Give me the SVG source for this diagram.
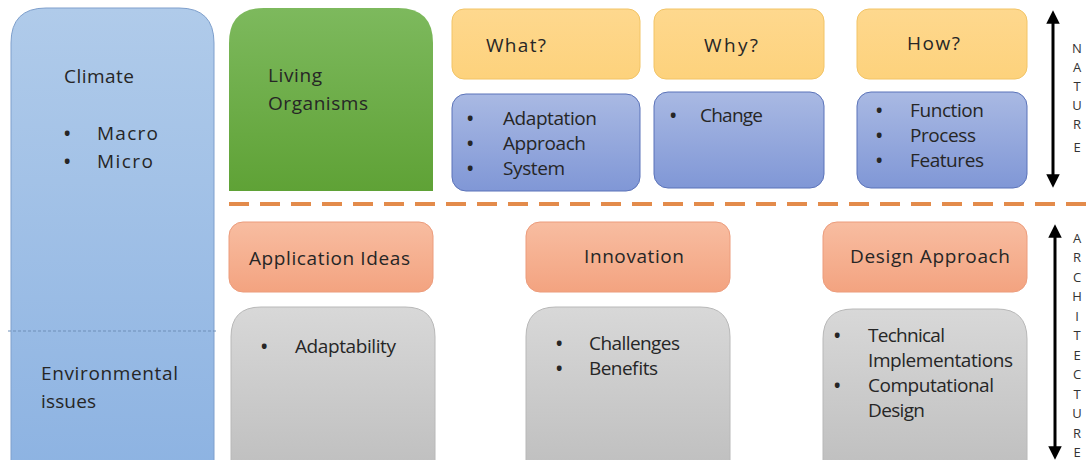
<svg xmlns="http://www.w3.org/2000/svg" width="1087" height="460" viewBox="0 0 1087 460">
<defs>
<linearGradient id="gBlueL" x1="0" y1="0" x2="0" y2="1"><stop offset="0" stop-color="#b0cbea"/><stop offset="1" stop-color="#8db3e2"/></linearGradient>
<linearGradient id="gGreen" x1="0" y1="0" x2="0" y2="1"><stop offset="0" stop-color="#7db95d"/><stop offset="1" stop-color="#5fa236"/></linearGradient>
<linearGradient id="gYellow" x1="0" y1="0" x2="0" y2="1"><stop offset="0" stop-color="#fed88e"/><stop offset="1" stop-color="#fdd27c"/></linearGradient>
<linearGradient id="gBlue" x1="0" y1="0" x2="0" y2="1"><stop offset="0" stop-color="#a9b9e3"/><stop offset="1" stop-color="#8097d6"/></linearGradient>
<linearGradient id="gOrange" x1="0" y1="0" x2="0" y2="1"><stop offset="0" stop-color="#f8bda1"/><stop offset="1" stop-color="#f3a380"/></linearGradient>
<linearGradient id="gGray" x1="0" y1="0" x2="0" y2="1"><stop offset="0" stop-color="#d8d8d8"/><stop offset="1" stop-color="#bfbfbf"/></linearGradient>
<marker id="ah" viewBox="0 0 10 10" refX="5" refY="5" markerWidth="4.5" markerHeight="4.5" orient="auto-start-reverse"><path d="M0,0 L10,5 L0,10 z" fill="#000"/></marker>
</defs>
<style>
text{font-family:"Open Sans","Liberation Sans",sans-serif;font-size:19px;fill:#262626}
.b{font-size:17px;font-weight:bold}
.side{font-size:13px;font-weight:normal;fill:#333;text-anchor:middle}
.yel{fill:url(#gYellow);stroke:#f2c466;stroke-width:1}
.blu{fill:url(#gBlue);stroke:#5b73b9;stroke-width:1}
.org{fill:url(#gOrange);stroke:#ec9c7c;stroke-width:1}
.gry{fill:url(#gGray);stroke:#b8b8b8;stroke-width:1}
</style>
<rect width="1087" height="460" fill="#fff"/>

<g id="climate">
<path d="M11,470 L11,43 Q11,8 46,8 L179,8 Q214,8 214,43 L214,470 Z" fill="url(#gBlueL)" stroke="#7e9fcc" stroke-width="1"/>
<line x1="8" y1="331" x2="216" y2="331" stroke="#6f8fb8" stroke-width="1" stroke-dasharray="3,2"/>
<text x="64" y="83" textLength="70">Climate</text>
<text class="b" x="64" y="140">•</text><text x="97" y="140" textLength="61">Macro</text>
<text class="b" x="64" y="168">•</text><text x="97" y="168" textLength="56">Micro</text>
<text x="41" y="380" textLength="137">Environmental</text>
<text x="41" y="408" textLength="55">issues</text>
</g>

<g id="living">
<path d="M229,191 L229,43 Q229,8 264,8 L398,8 Q433,8 433,43 L433,191 Z" fill="url(#gGreen)"/>
<text x="268" y="82" textLength="54">Living</text>
<text x="268" y="110" textLength="100">Organisms</text>
</g>

<g id="what"><rect class="yel" x="452" y="9" width="188" height="70" rx="12"/><text x="486" y="52" textLength="60">What?</text></g>
<g id="why"><rect class="yel" x="654" y="9" width="170" height="70" rx="12"/><text x="704" y="52" textLength="54">Why?</text></g>
<g id="how"><rect class="yel" x="857" y="9" width="170" height="70" rx="12"/><text x="907" y="50" textLength="53">How?</text></g>

<g id="what-list"><rect class="blu" x="452" y="94" width="188" height="97" rx="14"/>
<text class="b" x="467" y="125">•</text><text x="503" y="125" textLength="94">Adaptation</text>
<text class="b" x="467" y="150">•</text><text x="503" y="150" textLength="83">Approach</text>
<text class="b" x="467" y="175">•</text><text x="503" y="175" textLength="62">System</text></g>
<g id="why-list"><rect class="blu" x="654" y="92" width="170" height="96" rx="14"/>
<text class="b" x="670" y="122">•</text><text x="700" y="122" textLength="63">Change</text></g>
<g id="how-list"><rect class="blu" x="857" y="92" width="170" height="96" rx="14"/>
<text class="b" x="876" y="117">•</text><text x="910" y="117" textLength="74">Function</text>
<text class="b" x="876" y="142">•</text><text x="910" y="142" textLength="66">Process</text>
<text class="b" x="876" y="167">•</text><text x="910" y="167" textLength="74">Features</text></g>

<g id="divider"><line x1="229" y1="204" x2="1087" y2="204" stroke="#e38b4b" stroke-width="4" stroke-dasharray="20,11"/></g>

<g id="app"><rect class="org" x="229" y="222" width="204" height="70" rx="14"/><text x="249" y="265" textLength="161">Application Ideas</text></g>
<g id="innov"><rect class="org" x="526" y="222" width="204" height="70" rx="14"/><text x="584" y="263" textLength="100">Innovation</text></g>
<g id="design"><rect class="org" x="823" y="222" width="204" height="70" rx="14"/><text x="850" y="263" textLength="160">Design Approach</text></g>

<g id="app-list"><path class="gry" d="M231,470 L231,337 Q231,307 261,307 L405,307 Q435,307 435,337 L435,470 Z"/>
<text class="b" x="261" y="353">•</text><text x="295" y="353" textLength="101">Adaptability</text></g>
<g id="innov-list"><path class="gry" d="M526,470 L526,337 Q526,307 556,307 L700,307 Q730,307 730,337 L730,470 Z"/>
<text class="b" x="556" y="350">•</text><text x="589" y="350" textLength="91">Challenges</text>
<text class="b" x="556" y="375">•</text><text x="589" y="375" textLength="69">Benefits</text></g>
<g id="design-list"><path class="gry" d="M823,470 L823,339 Q823,309 853,309 L997,309 Q1027,309 1027,339 L1027,470 Z"/>
<text class="b" x="834" y="342">•</text><text x="868" y="342" textLength="77">Technical</text>
<text x="868" y="367" textLength="145">Implementations</text>
<text class="b" x="834" y="392">•</text><text x="868" y="392" textLength="126">Computational</text>
<text x="868" y="417" textLength="57">Design</text></g>

<g id="connectors">
<line x1="1053" y1="17" x2="1053" y2="181" stroke="#000" stroke-width="3" marker-start="url(#ah)" marker-end="url(#ah)"/>
<line x1="1055" y1="231" x2="1055" y2="453" stroke="#000" stroke-width="3" marker-start="url(#ah)" marker-end="url(#ah)"/>
</g>

<g id="labels">
<text class="side" x="1077" y="53">N</text>
<text class="side" x="1077" y="72">A</text>
<text class="side" x="1077" y="91">T</text>
<text class="side" x="1077" y="110">U</text>
<text class="side" x="1077" y="129">R</text>
<text class="side" x="1077" y="152">E</text>
<text class="side" x="1077" y="243">A</text>
<text class="side" x="1077" y="262">R</text>
<text class="side" x="1077" y="282">C</text>
<text class="side" x="1077" y="301">H</text>
<text class="side" x="1077" y="321">I</text>
<text class="side" x="1077" y="340">T</text>
<text class="side" x="1077" y="360">E</text>
<text class="side" x="1077" y="379">C</text>
<text class="side" x="1077" y="399">T</text>
<text class="side" x="1077" y="418">U</text>
<text class="side" x="1077" y="438">R</text>
<text class="side" x="1077" y="457">E</text>
</g>
</svg>
